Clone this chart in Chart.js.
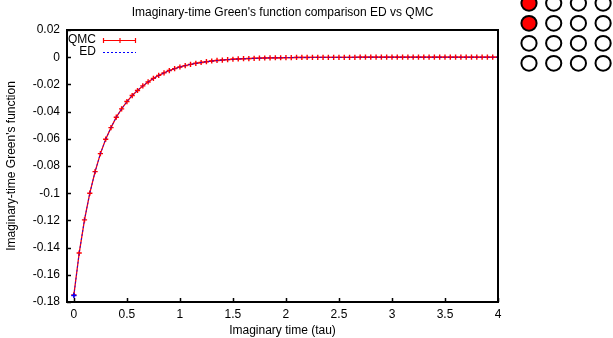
<!DOCTYPE html>
<html>
<head>
<meta charset="utf-8">
<script src="https://cdn.jsdelivr.net/npm/chart.js@4.4.0/dist/chart.umd.min.js"></script>
<style>
    html, body { margin: 0; padding: 0; background: #fff; }
    #chart { display: block; }
</style>
</head>
<body>
<canvas id="chart" width="613" height="338"></canvas>
<script>
const tau = [
    0.00, 0.05, 0.10, 0.15, 0.20, 0.25, 0.30, 0.35, 0.40, 0.45,
    0.50, 0.55, 0.60, 0.65, 0.70, 0.75, 0.80, 0.85, 0.90, 0.95,
    1.00, 1.05, 1.10, 1.15, 1.20, 1.25, 1.30, 1.35, 1.40, 1.45,
    1.50, 1.55, 1.60, 1.65, 1.70, 1.75, 1.80, 1.85, 1.90, 1.95,
    2.00, 2.05, 2.10, 2.15, 2.20, 2.25, 2.30, 2.35, 2.40, 2.45,
    2.50, 2.55, 2.60, 2.65, 2.70, 2.75, 2.80, 2.85, 2.90, 2.95,
    3.00, 3.05, 3.10, 3.15, 3.20, 3.25, 3.30, 3.35, 3.40, 3.45,
    3.50, 3.55, 3.60, 3.65, 3.70, 3.75, 3.80, 3.85, 3.90, 3.95,
    4.00
];

const qmc = [
    -0.1748, -0.1440, -0.1196, -0.1000, -0.0841, -0.0709, -0.0603, -0.0518, -0.0441, -0.0380,
    -0.0326, -0.0282, -0.0245, -0.0211, -0.0182, -0.0156, -0.0134, -0.0115, -0.0098, -0.0084,
    -0.0072, -0.0062, -0.0053, -0.0045, -0.0039, -0.0033, -0.0028, -0.0024, -0.0021, -0.0018,
    -0.0015, -0.0013, -0.0011, -0.0010, -0.0008, -0.0007, -0.0006, -0.0005, -0.0004, -0.0004,
    -0.0003, -0.0003, -0.0002, -0.0002, -0.0002, -0.0001, -0.0001, -0.0001, -0.0001, -0.0001,
    -0.0001, -0.0001, -0.0001, -0.0001, 0.0000, 0.0000, 0.0000, 0.0000, 0.0000, 0.0000,
    0.0000, 0.0000, 0.0000, 0.0000, 0.0000, 0.0000, 0.0000, 0.0000, 0.0000, 0.0000,
    0.0000, 0.0000, 0.0000, 0.0000, 0.0000, 0.0000, 0.0000, 0.0000, 0.0000, 0.0000,
    0.0000
];

const ed = [
    -0.1752, -0.1441, -0.1195, -0.1001, -0.0842, -0.0710, -0.0603, -0.0517, -0.0442, -0.0380,
    -0.0327, -0.0282, -0.0244, -0.0211, -0.0182, -0.0157, -0.0135, -0.0116, -0.0099, -0.0085,
    -0.0073, -0.0062, -0.0053, -0.0046, -0.0039, -0.0034, -0.0029, -0.0025, -0.0021, -0.0018,
    -0.0016, -0.0013, -0.0012, -0.0010, -0.0009, -0.0007, -0.0006, -0.0005, -0.0005, -0.0004,
    -0.0003, -0.0003, -0.0002, -0.0002, -0.0002, -0.0002, -0.0001, -0.0001, -0.0001, -0.0001,
    -0.0001, -0.0001, -0.0001, 0.0000, 0.0000, 0.0000, 0.0000, 0.0000, 0.0000, 0.0000,
    0.0000, 0.0000, 0.0000, 0.0000, 0.0000, 0.0000, 0.0000, 0.0000, 0.0000, 0.0000,
    0.0000, 0.0000, 0.0000, 0.0000, 0.0000, 0.0000, 0.0000, 0.0000, 0.0000, 0.0000,
    0.0000
];

const xTickValues = [0, 0.5, 1, 1.5, 2, 2.5, 3, 3.5, 4];
const yTickValues = [0.02, 0, -0.02, -0.04, -0.06, -0.08, -0.1, -0.12, -0.14, -0.16, -0.18];

// lattice picture in the top right corner: 1 = filled site
const lattice = [
    [1, 0, 0, 0],
    [1, 0, 0, 0],
    [0, 0, 0, 0],
    [0, 0, 0, 0]
];

const FONT = '"Liberation Sans", Arial, sans-serif';

// gnuplot look: frame, inward ticks, key, title and the lattice sketch
const gnuplotDecor = {
    id: 'gnuplotDecor',
    afterDraw(chart) {
        const c = chart.ctx;
        const a = chart.chartArea;
        const xs = chart.scales.x;
        const ys = chart.scales.y;
        c.save();

        // frame
        c.strokeStyle = '#000';
        c.lineWidth = 2;
        c.strokeRect(a.left, a.top, a.right - a.left, a.bottom - a.top);

        // ticks pointing into the plot
        c.lineWidth = 1.5;
        c.beginPath();
        xs.ticks.forEach(t => {
            const px = Math.round(xs.getPixelForValue(t.value)) + 0.5;
            c.moveTo(px, a.bottom);
            c.lineTo(px, a.bottom - 4);
        });
        ys.ticks.forEach(t => {
            const py = Math.round(ys.getPixelForValue(t.value)) + 0.5;
            c.moveTo(a.left, py);
            c.lineTo(a.left + 4, py);
        });
        c.stroke();

        // title
        c.fillStyle = '#000';
        c.font = '12px ' + FONT;
        c.textAlign = 'center';
        c.textBaseline = 'middle';
        c.fillText("Imaginary-time Green's function comparison ED vs QMC", (a.left + a.right) / 2, 13);

        // key
        c.textAlign = 'right';
        c.fillText('QMC', 96, 40);
        c.fillText('ED', 96, 52);

        c.strokeStyle = '#ff0000';
        c.lineWidth = 1.2;
        c.beginPath();
        c.moveTo(103, 40.5); c.lineTo(136, 40.5);
        c.moveTo(103.5, 38); c.lineTo(103.5, 43);
        c.moveTo(135.5, 38); c.lineTo(135.5, 43);
        c.moveTo(120, 38); c.lineTo(120, 43);
        c.moveTo(117.5, 40.5); c.lineTo(122.5, 40.5);
        c.stroke();

        c.strokeStyle = '#0000ff';
        c.lineWidth = 1;
        c.setLineDash([2, 2]);
        c.beginPath();
        c.moveTo(103, 52.5); c.lineTo(136, 52.5);
        c.stroke();
        c.setLineDash([]);

        // lattice
        c.lineWidth = 2;
        c.strokeStyle = '#000';
        lattice.forEach((row, r) => {
            row.forEach((v, k) => {
                const cx = 529 + k * 24.7;
                const cy = 3.3 + r * 20;
                c.beginPath();
                c.ellipse(cx, cy, 7.6, 7.4, 0, 0, Math.PI * 2);
                c.fillStyle = v ? '#ff0000' : '#fff';
                c.fill();
                c.stroke();
            });
        });

        c.restore();
    }
};

const ctx = document.getElementById('chart').getContext('2d');

new Chart(ctx, {
    type: 'line',
    data: {
        datasets: [
            {
                label: 'QMC',
                data: tau.map((t, i) => ({ x: t, y: qmc[i] })),
                borderColor: '#ff0000',
                borderWidth: 1.3,
                pointStyle: 'cross',
                pointRadius: 2.6,
                pointBorderWidth: 1.4,
                pointBorderColor: '#ff0000',
                pointBackgroundColor: '#ff0000',
                tension: 0,
                order: 1
            },
            {
                label: 'ED',
                data: tau.map((t, i) => ({ x: t, y: ed[i] })),
                borderColor: 'rgba(0, 0, 255, 0.8)',
                borderWidth: 1,
                borderDash: [2, 2],
                pointStyle: 'cross',
                pointRadius: c => c.dataIndex === 0 ? 2.6 : 0,
                pointBorderWidth: 1.4,
                pointBorderColor: '#0000ff',
                tension: 0,
                order: 0
            }
        ]
    },
    options: {
        responsive: false,
        animation: false,
        layout: { padding: { top: 30, right: 115, left: 0, bottom: 0 } },
        plugins: {
            legend: { display: false },
            title: { display: false },
            tooltip: { enabled: false }
        },
        scales: {
            x: {
                type: 'linear',
                min: -0.065,
                max: 4,
                afterBuildTicks: s => { s.ticks = xTickValues.map(v => ({ value: v })); },
                afterFit: s => { s.height = 36; },
                grid: { display: false, drawTicks: false },
                border: { display: false },
                ticks: {
                    color: '#000',
                    font: { family: FONT, size: 12 },
                    padding: 5,
                    maxRotation: 0,
                    callback: v => String(v)
                },
                title: {
                    display: true,
                    text: 'Imaginary time (tau)',
                    color: '#000',
                    font: { family: FONT, size: 12 },
                    padding: { top: 0, bottom: 0 }
                }
            },
            y: {
                type: 'linear',
                min: -0.18,
                max: 0.02,
                afterBuildTicks: s => { s.ticks = yTickValues.map(v => ({ value: v })); },
                afterFit: s => { s.width = 67; },
                grid: { display: false, drawTicks: false },
                border: { display: false },
                ticks: {
                    color: '#000',
                    font: { family: FONT, size: 12 },
                    padding: 7,
                    callback: v => String(parseFloat(v.toFixed(2)))
                },
                title: {
                    display: true,
                    text: "Imaginary-time Green's function",
                    color: '#000',
                    font: { family: FONT, size: 12 },
                    padding: { top: 4.5, bottom: 0 }
                }
            }
        }
    },
    plugins: [gnuplotDecor]
});
</script>
</body>
</html>
